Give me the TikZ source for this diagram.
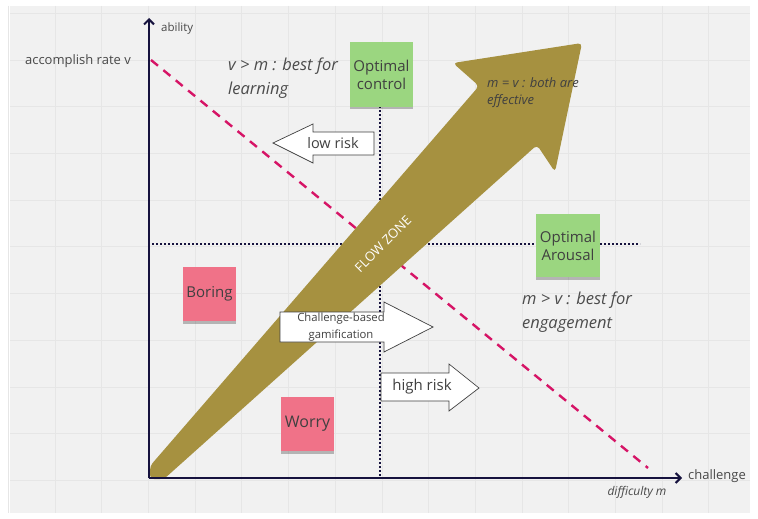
\documentclass[tikz,border=0pt]{standalone}
\usepackage{fontspec}
\setmainfont{Open Sans}
\usetikzlibrary{arrows.meta,shadows}
\definecolor{bggray}{RGB}{241,241,241}
\definecolor{gridgray}{RGB}{230,230,230}
\definecolor{axisblue}{RGB}{22,18,62}
\definecolor{flowgold}{RGB}{166,145,64}
\definecolor{ratered}{RGB}{214,20,102}
\definecolor{notegreen}{RGB}{155,214,128}
\definecolor{notepink}{RGB}{240,114,136}
\definecolor{labelgray}{RGB}{72,72,72}
\begin{document}
\begin{tikzpicture}[x=1pt,y=-1pt,
  gridline/.style={gridgray, line width=.8pt},
  axis/.style={axisblue, line width=2.2pt, -{Straight Barb[length=5pt,width=10pt,line width=2pt]}},
  guide/.style={axisblue, line width=2pt, dash pattern=on 1.8pt off 2.2pt},
  rateline/.style={ratered, line width=2.4pt, dash pattern=on 9pt off 7pt},
  note/.style={minimum width=53pt, minimum height=54pt, inner sep=1pt, align=center,
    text=black!75, font=\fontsize{15}{18}\selectfont,
    drop shadow={shadow xshift=0pt, shadow yshift=-2.5pt, opacity=.25, fill=black}},
  blockarrow/.style={draw=black!75, fill=white, line width=.7pt, line join=miter},
  lbl/.style={text=labelgray, inner sep=0pt},
  remark/.style={text=black!70, inner sep=0pt, align=left, font=\itshape\fontsize{16.5}{24}\selectfont}]
\useasboundingbox (0,0) rectangle (758,519);
\fill[white] (0,0) rectangle (758,519);
\fill[bggray] (10,6) rectangle (750,513);
% grid
\foreach \i in {0,...,15}
  \draw[gridline] ({8.3+46.7*\i},6) -- ({8.3+46.7*\i},513);
\foreach \j in {0,...,10}
  \draw[gridline] (10,{13.3+46.7*\j}) -- (750,{13.3+46.7*\j});

\coordinate (origin) at (149,478);
\coordinate (ytop) at (149,18);
\coordinate (xend) at (682,478);
\coordinate (vtop) at (151,60);
\coordinate (mend) at (648,468);
\coordinate (ctrlfoot) at (380,478);
\coordinate (arsleft) at (152,244);
\coordinate (arsright) at (640,244);

% guides
\draw[guide] (380,106) -- (ctrlfoot);
\draw[guide] (arsleft) -- (arsright);
\draw[rateline] (vtop) -- (mend);

% flow zone arrow
\fill[flowgold, rounded corners=4pt] (150,479) -- (150,466) -- (479,86) -- (453,63)
  -- (582,43) -- (555,172) -- (537,145) -- (164,479) -- cycle;
\node[rotate=45, text=white, font=\fontsize{13}{15}\selectfont] (flowzone) at (383,244) {FLOW ZONE};
\node[anchor=west, text=black!75, align=left, inner sep=0pt,
  font=\itshape\fontsize{13}{17}\selectfont] (mequalv) at (487,93) {m = v : both are\\effective};

% axes
\draw[axis] (origin) -- (ytop);
\draw[axis] (origin) -- (xend);
\node[lbl, anchor=west, font=\fontsize{11.5}{14}\selectfont] (ability) at (161,29) {ability};
\node[lbl, anchor=east, font=\fontsize{13}{15}\selectfont] (rate) at (131,61) {accomplish rate v};
\node[lbl, anchor=west, font=\fontsize{13}{15}\selectfont] (challenge) at (688,476) {challenge};
\node[lbl, font=\itshape\fontsize{12}{14}\selectfont] (difficulty) at (637,492) {difficulty m};

% sticky notes
\node[note, fill=notegreen, minimum width=63pt, minimum height=64pt] (control) at (381.5,74.5) {Optimal\\control};
\node[note, fill=notegreen, minimum width=64pt, minimum height=63pt] (arousal) at (568,245.5) {Optimal\\Arousal};
\node[note, fill=notepink] (boring) at (209.5,294) {Boring};
\node[note, fill=notepink, font=\fontsize{16}{18}\selectfont] (worry) at (307.5,424) {Worry};

% block arrows
\draw[blockarrow] (273,143) -- (313,124) -- (313,132) -- (374,132) -- (374,155)
  -- (313,155) -- (313,163) -- cycle;
\node[text=black!75, font=\fontsize{14.5}{17}\selectfont] (lowrisk) at (333,143) {low risk};
\draw[blockarrow] (280,312) -- (384,312) -- (384,302) -- (433,327) -- (384,352)
  -- (384,342) -- (280,342) -- cycle;
\node[text=black!75, align=center, font=\fontsize{11.3}{17}\selectfont] (gamification) at (341,327) {Challenge-based\\gamification};
\draw[blockarrow] (381,373) -- (449,373) -- (449,364) -- (479,388) -- (449,411)
  -- (449,401) -- (381,401) -- cycle;
\node[text=black!75, font=\fontsize{15}{17}\selectfont] (highrisk) at (422,387) {high risk};

% remarks
\node[remark, anchor=west] (learning) at (228,78) {v > m : best for\\learning};
\node[remark, anchor=west] (engagement) at (522,312) {m > v : best for\\engagement};
\end{tikzpicture}
\end{document}
